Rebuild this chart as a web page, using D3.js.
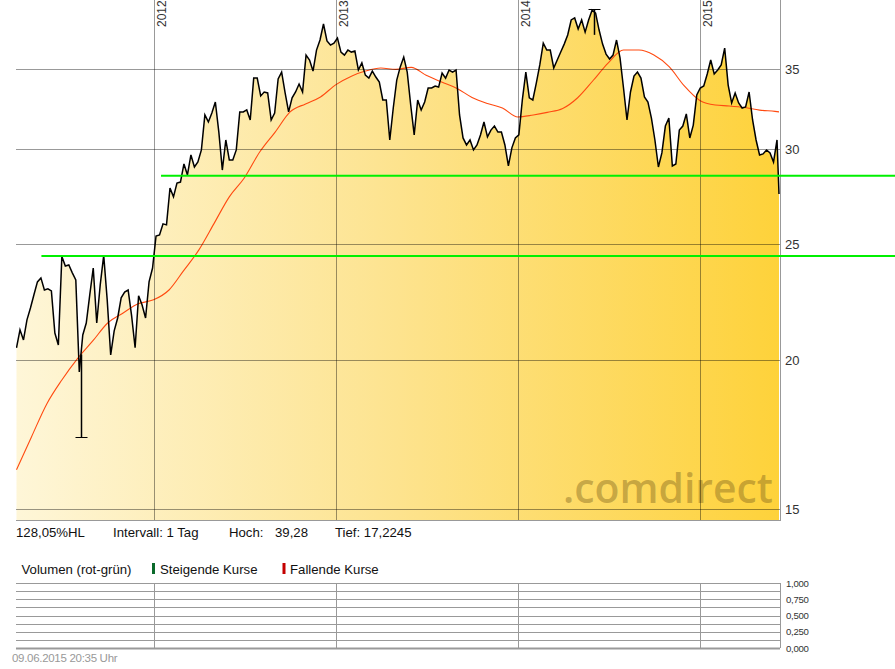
<!DOCTYPE html>
<html><head><meta charset="utf-8">
<script src="https://cdn.jsdelivr.net/npm/d3@7"></script>
<style>
body{margin:0;background:#fff;}
svg{display:block;font-family:"Liberation Sans",Arial,sans-serif;}
</style>
</head><body>
<svg id="chart" width="895" height="669"></svg>
<script>
// ---------- DATA ----------
const weekStart = "2011-04-01";           // first weekly close (Fridays)
const closeWeekly = [
 20.46,21.18,20.77,21.59,22.09,22.66,23.23,23.41,22.87,22.92,
 22.83,21.05,20.57,24.40,23.95,24.00,23.64,23.32,19.53,20.97,
 21.46,22.66,23.86,21.46,23.10,24.45,22.44,20.18,21.14,21.67,
 22.53,22.78,22.87,21.76,20.46,22.62,22.22,21.67,23.23,23.86,
 25.38,25.43,25.98,25.93,27.84,27.37,28.11,28.16,29.16,28.55,
 29.67,28.99,29.27,29.96,32.05,31.62,32.17,32.86,31.01,28.82,
 30.54,29.39,29.39,29.96,32.24,32.24,32.36,31.74,34.41,34.41,
 33.25,33.50,33.44,31.74,32.17,34.35,34.81,33.44,32.24,33.12,
 33.50,34.02,33.50,35.97,35.63,34.88,36.32,37.03,38.19,36.96,
 36.67,36.81,37.17,36.18,35.97,36.32,36.18,36.25,34.95,35.43,
 34.61,34.41,34.88,34.48,34.15,32.99,32.99,30.54,32.48,34.28,
 35.16,35.83,34.81,32.67,30.84,32.99,32.36,32.86,33.76,33.76,
 33.89,33.82,34.75,34.41,34.95,34.81,34.95,32.05,30.66,30.25,
 30.54,29.96,30.25,30.84,31.62,30.72,31.13,31.37,31.01,31.01,
 30.25,29.05,30.08,30.66,30.84,32.99,34.81,33.12,32.99,34.08,
 35.29,36.81,36.32,36.32,35.09,35.63,36.18,36.74,37.39,38.49,
 38.64,37.82,38.49,37.60,38.49,39.23,39.00,37.75,36.74,36.04,
 35.70,35.97,37.03,35.77,33.76,31.74,33.50,34.54,34.81,34.41,
 33.18,32.86,31.86,30.54,28.99,29.79,31.37,31.86,29.05,29.16,
 31.13,31.37,32.11,30.66,31.43,33.31,33.76,33.89,34.68,35.63,
 34.68,34.95,35.29,36.46,33.95,32.80,33.44,32.80,32.48,32.55,
 33.50,31.74,30.54,29.67,29.73,29.96,29.79,29.27,30.54
];
const lastQuoteDate = "2015-06-09";
const lastQuoteClose = 27.52;

// 200-day moving average (red), monthly readings
const maStart = "2011-04-01";
const maValues = [
 16.17,17.23,18.37,19.23,20.03,20.73,21.46,21.88,22.27,
 22.44,22.87,23.73,24.71,25.98,27.37,28.38,29.84,31.01,32.24,32.74,33.18,
 33.98,34.54,34.88,35.09,34.99,35.13,34.60,34.15,33.73,33.15,32.76,32.48,
 31.92,32.05,32.21,32.45,33.13,34.25,35.42,36.32,36.32,35.97,35.16,33.89,
 32.96,32.67,32.61,32.51,32.35,32.27
];
const maLastValue = 32.24;

// extreme days (Hoch / Tief) as high-low bars
const extremeDays = [
 {date:"2011-08-09", high:20.20, low:17.2245, cap:"low"},
 {date:"2014-06-03", high:39.28, low:37.40, cap:"high"}
];

// horizontal support lines (green)
const supportLevels = [28.50, 24.42];
const supportStartDates = ["2012-01-16", "2011-05-21"];

const priceTicks = [15, 20, 25, 30, 35];
const yearDates = ["2012-01-01","2013-01-01","2014-01-01","2015-01-01"];
const yearLabels = ["2012","2013","2014","2015"];

const volumeGridSteps = [0,0.125,0.25,0.375,0.5,0.625,0.75,0.875,1];
const volumeTicks = [0, 0.25, 0.5, 0.75, 1];
const volumeTickLabels = ["0,000","0,250","0,500","0,750","1,000"];

const infoTexts = ["128,05%HL","Intervall: 1 Tag","Hoch:","39,28","Tief: 17,2245"];
const legendTexts = ["Volumen (rot-grün)","Steigende Kurse","Fallende Kurse"];
const stampText = "09.06.2015 20:35 Uhr";

// ---------- BUILD SERIES ----------
const parse = d3.utcParse("%Y-%m-%d");
const priceSeries = closeWeekly.map((v,i)=>({date:d3.utcDay.offset(parse(weekStart), 7*i), v}));
priceSeries.push({date:parse(lastQuoteDate), v:lastQuoteClose});
const maSeries = maValues.map((v,i)=>({date:d3.utcMonth.offset(parse(maStart), i), v}));
maSeries.push({date:parse(lastQuoteDate), v:maLastValue});

// ---------- LAYOUT ----------
const W = 895, H = 669;
const P = {left:16, right:780, top:0, bottom:520};
const V = {top:583, bottom:648};

const x = d3.scaleUtc().domain([parse("2011-03-31"), parse("2015-06-11")]).range([P.left, P.right]);
const y = d3.scaleLog().domain([14.68, 40]).range([P.bottom, P.top]);
const yv = d3.scaleLinear().domain([0,1]).range([V.bottom, V.top]);

const svg = d3.select("#chart");
const defs = svg.append("defs");
const grad = defs.append("linearGradient").attr("id","fillGrad")
  .attr("gradientUnits","userSpaceOnUse").attr("x1",P.left).attr("x2",P.right).attr("y1",0).attr("y2",0);
grad.append("stop").attr("offset","0%").attr("stop-color","#fef6d8");
grad.append("stop").attr("offset","50%").attr("stop-color","#fde38e");
grad.append("stop").attr("offset","100%").attr("stop-color","#fed23a");
defs.append("clipPath").attr("id","plotClip").append("rect")
  .attr("x",P.left).attr("y",P.top).attr("width",P.right-P.left).attr("height",P.bottom-P.top);

const plot = svg.append("g").attr("clip-path","url(#plotClip)");

// area under price
plot.append("path").datum(priceSeries)
  .attr("fill","url(#fillGrad)")
  .attr("d", d3.area().x(d=>x(d.date)).y0(P.bottom).y1(d=>y(d.v)));

// watermark
svg.append("text").text(".comdirect")
  .attr("x",563).attr("y",503)
  .attr("font-family","'Open Sans',sans-serif").attr("font-weight",600)
  .attr("font-size",42).attr("textLength",210).attr("lengthAdjust","spacingAndGlyphs")
  .attr("fill","#7a5f1c").attr("fill-opacity",0.42);

// grid
const gridCol = "rgba(0,0,0,0.4)";
svg.append("g").selectAll("line").data(priceTicks).join("line")
  .attr("x1",P.left).attr("x2",P.right)
  .attr("y1",d=>Math.round(y(d))+0.5).attr("y2",d=>Math.round(y(d))+0.5)
  .attr("stroke",gridCol).attr("stroke-width",1);
svg.append("g").selectAll("line").data(yearDates).join("line")
  .attr("x1",d=>Math.round(x(parse(d)))+0.5).attr("x2",d=>Math.round(x(parse(d)))+0.5)
  .attr("y1",P.top).attr("y2",P.bottom)
  .attr("stroke",gridCol).attr("stroke-width",1);

// moving average
plot.append("path").datum(maSeries)
  .attr("fill","none").attr("stroke","#ff4a10").attr("stroke-width",1.1)
  .attr("d", d3.line().x(d=>x(d.date)).y(d=>y(d.v)).curve(d3.curveMonotoneX));

// price line
plot.append("path").datum(priceSeries)
  .attr("fill","none").attr("stroke","#000").attr("stroke-width",1.5).attr("stroke-linejoin","miter")
  .attr("d", d3.line().x(d=>x(d.date)).y(d=>y(d.v)));

// extreme HL bars with caps
const ex = plot.append("g");
extremeDays.forEach(e=>{
  const xx = Math.round(x(parse(e.date)))+0.5;
  ex.append("line").attr("x1",xx).attr("x2",xx).attr("y1",y(e.high)).attr("y2",y(e.low))
    .attr("stroke","#000").attr("stroke-width",1.5);
  const cy = Math.round(e.cap==="low" ? y(e.low) : y(e.high))+0.5;
  ex.append("line").attr("x1",xx-6).attr("x2",xx+6).attr("y1",cy).attr("y2",cy)
    .attr("stroke","#000").attr("stroke-width",1);
});

// borders
svg.append("line").attr("x1",P.right+0.5).attr("x2",P.right+0.5).attr("y1",P.top).attr("y2",P.bottom)
  .attr("stroke","#999");
svg.append("line").attr("x1",P.left).attr("x2",P.right+1).attr("y1",P.bottom+0.5).attr("y2",P.bottom+0.5)
  .attr("stroke","#999");

// support lines
svg.append("g").selectAll("line").data(supportLevels).join("line")
  .attr("x1",(d,i)=>x(parse(supportStartDates[i]))).attr("x2",W)
  .attr("y1",d=>y(d)).attr("y2",d=>y(d))
  .attr("stroke","#00f000").attr("stroke-width",2);

// right tick labels
svg.append("g").selectAll("text").data(priceTicks).join("text")
  .attr("x",P.right+5).attr("y",d=>y(d)+5)
  .attr("font-size",13).attr("fill","#333").text(d=>d);

// year labels (rotated)
svg.append("g").selectAll("text").data(yearDates).join("text")
  .attr("transform",d=>`translate(${x(parse(d))+12},27) rotate(-90)`)
  .attr("font-size",12).attr("fill","#333").text((d,i)=>yearLabels[i]);

// info row
const infoX = [16,113,229,275,335];
svg.append("g").selectAll("text").data(infoTexts).join("text")
  .attr("x",(d,i)=>infoX[i]).attr("y",537)
  .attr("font-size",13.2).attr("fill","#111").text(d=>d);

// volume legend
const legX = [21.5,160,290];
svg.append("g").selectAll("text").data(legendTexts).join("text")
  .attr("x",(d,i)=>legX[i]).attr("y",573.5)
  .attr("font-size",13.2).attr("fill","#111").text(d=>d);
svg.append("rect").attr("x",152).attr("y",563).attr("width",3).attr("height",11).attr("fill","#0b6a2b");
svg.append("rect").attr("x",282.5).attr("y",563).attr("width",3).attr("height",11).attr("fill","#c40000");

// volume panel grid
svg.append("g").selectAll("line").data(volumeGridSteps).join("line")
  .attr("x1",P.left).attr("x2",P.right)
  .attr("y1",d=>Math.round(yv(d))+0.5).attr("y2",d=>Math.round(yv(d))+0.5)
  .attr("stroke","#999").attr("stroke-width",d=>d===0?2:1);
svg.append("g").selectAll("line").data(yearDates.concat(["2015-06-11"])).join("line")
  .attr("x1",d=>Math.round(x(parse(d)))+0.5).attr("x2",d=>Math.round(x(parse(d)))+0.5)
  .attr("y1",yv(1)).attr("y2",yv(0))
  .attr("stroke","#999");
svg.append("g").selectAll("text").data(volumeTicks).join("text")
  .attr("x",P.right+6).attr("y",d=>yv(d)+3.5)
  .attr("font-size",9.6).attr("fill","#333").attr("letter-spacing",-0.3)
  .text((d,i)=>volumeTickLabels[i]);

// time stamp
svg.append("text").attr("x",12).attr("y",662).attr("font-size",11.5)
  .attr("fill","#999").attr("letter-spacing",-0.3).text(stampText);
</script>
</body></html>
